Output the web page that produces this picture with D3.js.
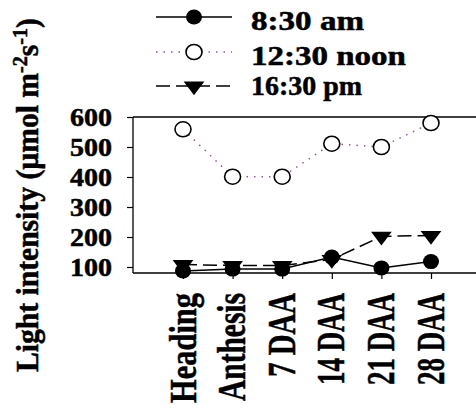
<!DOCTYPE html>
<html>
<head>
<meta charset="utf-8">
<script src="https://cdn.jsdelivr.net/npm/d3@7"></script>
<style>
  body { margin: 0; background: #fff; }
  text { font-family: "Liberation Serif", "Times New Roman", Tinos, serif; font-weight: bold; fill: #000; stroke: #000; stroke-width: 0.5px; }
</style>
</head>
<body>
<div id="chart"></div>
<script>
/**
 * DATA
 * */
const stages = ["Heading", "Anthesis", "7 DAA", "14 DAA", "21 DAA", "28 DAA"];
const am830 = [87, 93, 93, 133, 97, 118];
const noon1230 = [559, 401, 401, 511, 500, 580];
const pm1630 = [108, 105, 105, 125, 202, 205];
const yTicks = [100, 200, 300, 400, 500, 600];
const seriesNames = ["8:30 am", "12:30 noon", "16:30 pm"];

const width = 476, height = 408;

const svg = d3.select("#chart")
  .append("svg")
  .attr("width", width)
  .attr("height", height);

// the picture's lettering is stretched, so fit each label to the length it has there
function fit(sel, x0, y0, len, rot) {
  sel.each(function() {
    const w = this.getComputedTextLength();
    const s = len / w;
    d3.select(this).attr("transform",
      `translate(${x0},${y0})` + (rot ? " rotate(-90)" : "") + ` scale(${s},1)`);
  });
}

// scales
const x = d3.scalePoint()
  .domain(stages)
  .range([183, 431]);

const y = d3.scaleLinear()
  .domain([80, 600])
  .range([273, 117]);

// frame: top + bottom lines run out to the right edge, left axis
svg.append("line")
  .attr("x1", 133).attr("x2", width)
  .attr("y1", y(600)).attr("y2", y(600))
  .attr("stroke", "#000").attr("stroke-width", 1.3);
svg.append("line")
  .attr("x1", 133).attr("x2", width)
  .attr("y1", y(80)).attr("y2", y(80))
  .attr("stroke", "#000").attr("stroke-width", 1.3);

// y axis
const yAxis = svg.append("g")
  .attr("transform", "translate(133,0)")
  .call(d3.axisLeft(y).tickValues(yTicks).tickSize(6).tickFormat(""));
yAxis.select(".domain").attr("stroke-width", 1.3).attr("d", `M0,${y(600)}V${y(80)}`);
yAxis.selectAll(".tick line").attr("stroke-width", 1.2);

yTicks.forEach(t => {
  svg.append("text")
    .attr("font-size", 25)
    .text(t)
    .call(fit, 70, y(t) + 8.5, 42, false);
});

// x axis ticks
const xAxis = svg.append("g")
  .attr("transform", `translate(0,${y(80)})`)
  .call(d3.axisBottom(x).tickSize(6).tickFormat(""));
xAxis.select(".domain").remove();
xAxis.selectAll(".tick line").attr("stroke-width", 1.2);

const xLen = { "Heading": 110, "Anthesis": 108, "7 DAA": 84, "14 DAA": 92, "21 DAA": 92, "28 DAA": 92 };
stages.forEach(d => {
  svg.append("text")
    .attr("text-anchor", "end")
    .attr("font-size", 39)
    .text(d)
    .call(fit, x(d) + 12.5, 293, xLen[d], true);
});

// y axis title
const yt = svg.append("text")
  .attr("font-size", 31);
yt.append("tspan").text("Light intensity (\u00b5mol m");
yt.append("tspan").attr("dy", -11).attr("font-size", 21).text("-2");
yt.append("tspan").attr("dy", 11).text("s");
yt.append("tspan").attr("dy", -11).attr("font-size", 21).text("-1");
yt.append("tspan").attr("dy", 11).text(")");
yt.call(fit, 38, 372, 354, true);

// lines
const line = d3.line()
  .x((d, i) => x(stages[i]))
  .y(d => y(d));

const styles = [
  { data: am830, stroke: "#000", dash: null, w: 1.5 },
  { data: noon1230, stroke: "#8e5a96", dash: "1.5,6", w: 1.5 },
  { data: pm1630, stroke: "#000", dash: "14,6", w: 1.5 }
];

styles.forEach(s => {
  svg.append("path")
    .datum(s.data)
    .attr("fill", "none")
    .attr("stroke", s.stroke)
    .attr("stroke-width", s.w)
    .attr("stroke-dasharray", s.dash)
    .attr("d", line);
});

const tri = d3.symbol().type(d3.symbolTriangle).size(110);

function drawMarker(g, k, cx, cy) {
  if (k === 0) {
    g.append("ellipse").attr("cx", cx).attr("cy", cy).attr("rx", 8).attr("ry", 7.5).attr("fill", "#000");
  } else if (k === 1) {
    g.append("ellipse").attr("cx", cx).attr("cy", cy).attr("rx", 8).attr("ry", 7.5)
      .attr("fill", "#fff").attr("stroke", "#000").attr("stroke-width", 1.6);
  } else {
    g.append("path").attr("d", tri)
      .attr("transform", `translate(${cx},${cy}) scale(1.3,-1)`)
      .attr("fill", "#000");
  }
}

// markers: draw 12:30 first, then 16:30, then 8:30 on top
[1, 2, 0].forEach(k => {
  const g = svg.append("g");
  styles[k].data.forEach((v, i) => drawMarker(g, k, x(stages[i]), y(v)));
});

// legend
const legY = [17, 52, 86];
const legTextY = [29.5, 64.5, 95];
const legLen = [113, 155, 111];
seriesNames.forEach((name, k) => {
  const g = svg.append("g");
  g.append("line")
    .attr("x1", 156).attr("x2", 232)
    .attr("y1", legY[k]).attr("y2", legY[k])
    .attr("stroke", styles[k].stroke)
    .attr("stroke-width", styles[k].w)
    .attr("stroke-dasharray", styles[k].dash);
  drawMarker(g, k, 194, legY[k]);
  g.append("text")
    .attr("font-size", 27)
    .text(name)
    .call(fit, 251, legTextY[k], legLen[k], false);
});
</script>
</body>
</html>
